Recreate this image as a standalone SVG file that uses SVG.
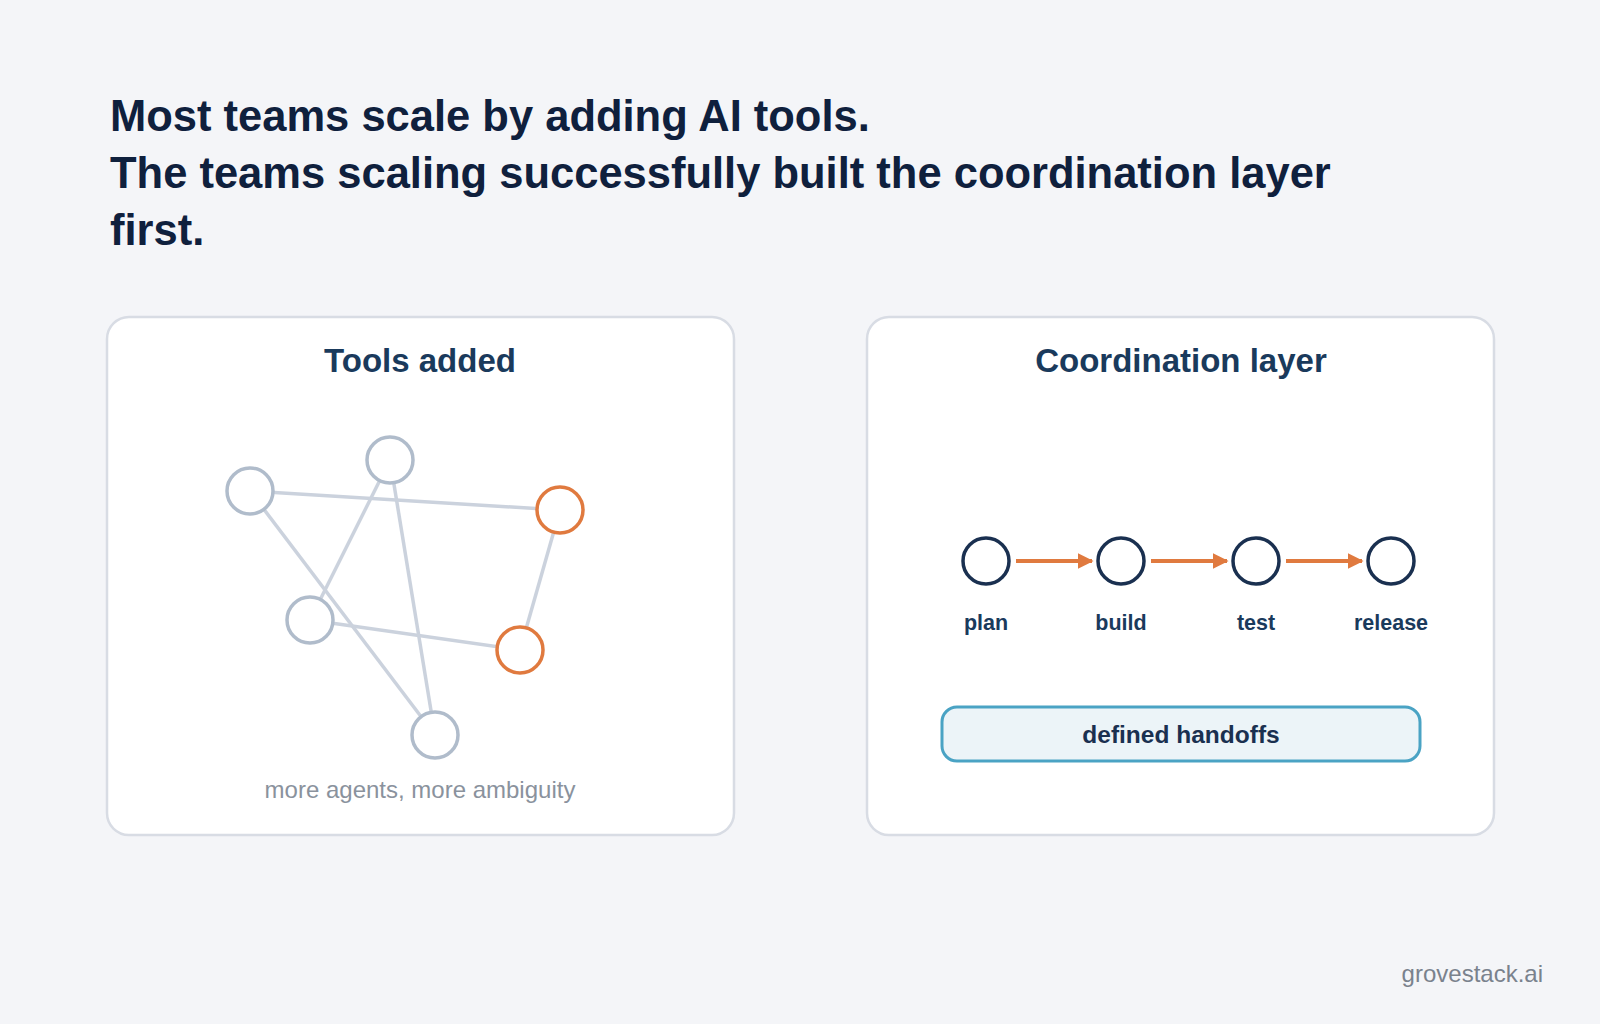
<svg xmlns="http://www.w3.org/2000/svg" width="1600" height="1024" viewBox="0 0 1600 1024">
<defs>
<style>
text{font-family:"Liberation Sans",Arial,sans-serif}
.h{font-size:43.5px;font-weight:bold;fill:#0f203d}
.ct{font-size:33px;font-weight:bold;fill:#1a3a5c;text-anchor:middle}
.card{fill:#fff;stroke:#d8dce4;stroke-width:2.5}
.g{fill:#fff;stroke:#b0bccb;stroke-width:3.5}
.o{fill:#fff;stroke:#e07a3f;stroke-width:3.5}
.e{stroke:#cbd2dd;stroke-width:3.5}
.n{fill:#fff;stroke:#1a3050;stroke-width:3.5}
.a{stroke:#e07a3f;stroke-width:4}
.lb{font-size:21.5px;font-weight:bold;fill:#1a3a5c;text-anchor:middle}
</style>
<marker id="ar" viewBox="0 0 10 10" refX="9" refY="5" markerWidth="4" markerHeight="4" orient="auto"><path d="M0,0L10,5L0,10z" fill="#e07a3f"/></marker>
</defs>
<rect width="1600" height="1024" fill="#f4f5f8"/>
<g id="title">
<text class="h" x="110" y="131">Most teams scale by adding AI tools.</text>
<text class="h" x="110" y="188">The teams scaling successfully built the coordination layer</text>
<text class="h" x="110" y="245">first.</text>
</g>
<g id="card-left">
<rect class="card" x="107" y="317" width="627" height="518" rx="22"/>
<text class="ct" x="420" y="372">Tools added</text>
<text x="420" y="798" font-size="24" fill="#8a929d" text-anchor="middle">more agents, more ambiguity</text>
</g>
<g id="card-right">
<rect class="card" x="867" y="317" width="627" height="518" rx="22"/>
<text class="ct" x="1181" y="372">Coordination layer</text>
</g>
<g id="connectors">
<line class="e" x1="250" y1="491" x2="560" y2="510"/>
<line class="e" x1="250" y1="491" x2="435" y2="735"/>
<line class="e" x1="390" y1="460" x2="310" y2="620"/>
<line class="e" x1="390" y1="460" x2="435" y2="735"/>
<line class="e" x1="560" y1="510" x2="520" y2="650"/>
<line class="e" x1="310" y1="620" x2="520" y2="650"/>
<line class="a" x1="1016" y1="561" x2="1092" y2="561" marker-end="url(#ar)"/>
<line class="a" x1="1151" y1="561" x2="1227" y2="561" marker-end="url(#ar)"/>
<line class="a" x1="1286" y1="561" x2="1362" y2="561" marker-end="url(#ar)"/>
</g>
<g id="tools">
<circle class="g" cx="250" cy="491" r="23"/>
<circle class="g" cx="390" cy="460" r="23"/>
<circle class="o" cx="560" cy="510" r="23"/>
<circle class="g" cx="310" cy="620" r="23"/>
<circle class="o" cx="520" cy="650" r="23"/>
<circle class="g" cx="435" cy="735" r="23"/>
</g>
<g id="plan"><circle class="n" cx="986" cy="561" r="23"/><text class="lb" x="986" y="630">plan</text></g>
<g id="build"><circle class="n" cx="1121" cy="561" r="23"/><text class="lb" x="1121" y="630">build</text></g>
<g id="test"><circle class="n" cx="1256" cy="561" r="23"/><text class="lb" x="1256" y="630">test</text></g>
<g id="release"><circle class="n" cx="1391" cy="561" r="23"/><text class="lb" x="1391" y="630">release</text></g>
<g id="handoffs">
<rect x="942" y="707" width="478" height="54" rx="15" fill="#ecf4f8" stroke="#4aa3c4" stroke-width="3"/>
<text x="1181" y="743" font-size="24.5" font-weight="bold" fill="#1a3050" text-anchor="middle">defined handoffs</text>
</g>
<text x="1543" y="982" font-size="24" fill="#7a828d" text-anchor="end">grovestack.ai</text>
</svg>
